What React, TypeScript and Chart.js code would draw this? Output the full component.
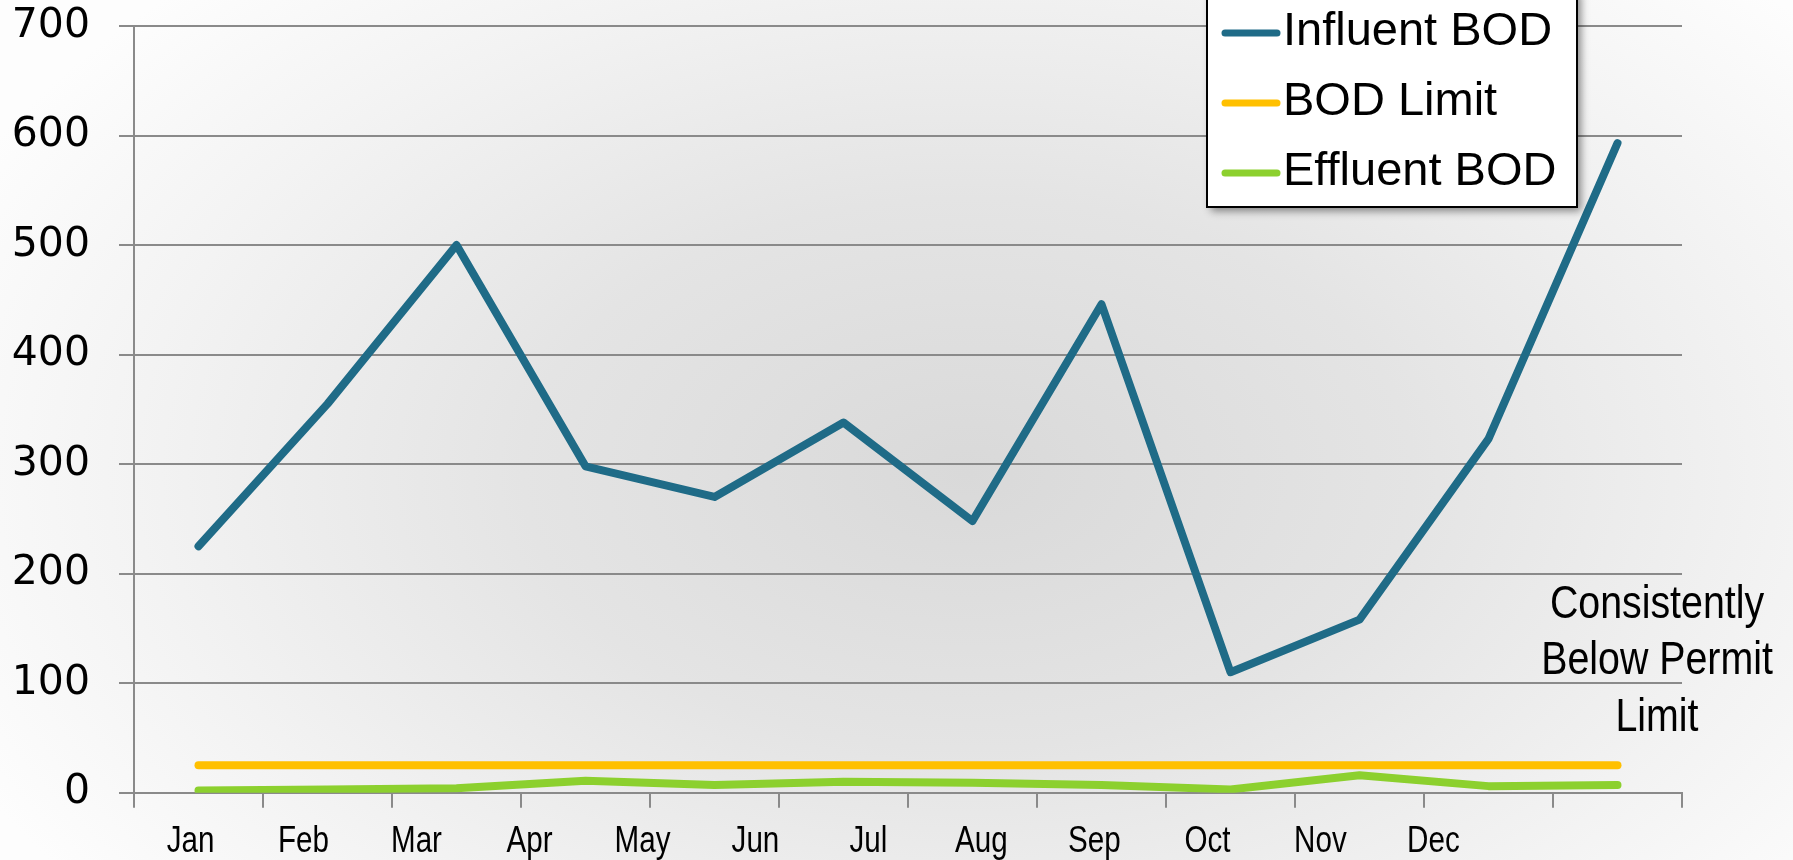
import React, { useEffect, useRef } from "react";
import { Chart, registerables } from "chart.js";

Chart.register(...registerables);

const CATEGORIES = ["Jan", "Feb", "Mar", "Apr", "May", "Jun", "Jul", "Aug", "Sep", "Oct", "Nov", "Dec"];
const MONTH_LABELS = ["Jan", "Feb", "Mar", "Apr", "May", "Jun", "Jul", "Aug", "Sep", "Oct", "Nov", "Dec"];
const INFLUENT_BOD = [225, 355, 500, 298, 270, 338, 248, 446, 110, 158, 323, 593];
const BOD_LIMIT = [25, 25, 25, 25, 25, 25, 25, 25, 25, 25, 25, 25];
const EFFLUENT_BOD = [2, 3, 4, 11, 7, 10, 9, 7, 3, 16, 6, 7];
const Y_TICKS = [0, 100, 200, 300, 400, 500, 600, 700];
const NOTE_LINES = ["Consistently", "Below Permit", "Limit"];

const GRID = "#8a8a8a";
const SANS = "'Liberation Sans', Arial, sans-serif";

const boxLegend = {
  id: "boxLegend",
  afterDraw(chart: any, _args: any, opts: any) {
    const { ctx } = chart;
    const { left, top, width, height, firstRow, rowGap } = opts;
    ctx.save();
    ctx.shadowColor = "rgba(0,0,0,0.45)";
    ctx.shadowBlur = 8;
    ctx.shadowOffsetX = 4;
    ctx.shadowOffsetY = 4;
    ctx.fillStyle = "#ffffff";
    ctx.fillRect(left, top, width, height);
    ctx.shadowColor = "transparent";
    ctx.shadowBlur = 0;
    ctx.shadowOffsetX = 0;
    ctx.shadowOffsetY = 0;
    ctx.lineWidth = 2;
    ctx.strokeStyle = "#000000";
    ctx.strokeRect(left, top, width, height);
    chart.data.datasets.forEach((ds: any, i: number) => {
      const cy = firstRow + i * rowGap;
      ctx.strokeStyle = ds.borderColor;
      ctx.lineWidth = 7;
      ctx.lineCap = "round";
      ctx.beginPath();
      ctx.moveTo(left + 18, cy);
      ctx.lineTo(left + 70, cy);
      ctx.stroke();
      ctx.fillStyle = "#000000";
      ctx.font = `47px ${SANS}`;
      ctx.textBaseline = "middle";
      ctx.textAlign = "left";
      ctx.fillText(ds.label, left + 76, cy - 0.5);
    });
    ctx.restore();
  },
};

const monthLabels = {
  id: "monthLabels",
  afterDraw(chart: any, _args: any, opts: any) {
    const { ctx } = chart;
    const s = chart.scales.xm;
    ctx.save();
    ctx.fillStyle = "#000000";
    ctx.font = `37px ${SANS}`;
    ctx.textAlign = "center";
    ctx.textBaseline = "middle";
    MONTH_LABELS.forEach((label, i) => {
      const x = s.getPixelForValue(i + 0.5);
      ctx.save();
      ctx.translate(x, s.top + opts.offsetY);
      ctx.scale(opts.squeeze, 1);
      ctx.fillText(label, 0, 0);
      ctx.restore();
    });
    ctx.restore();
  },
};

const noteText = {
  id: "noteText",
  afterDraw(chart: any, _args: any, opts: any) {
    const { ctx } = chart;
    ctx.save();
    ctx.fillStyle = "#000000";
    ctx.font = `46px ${SANS}`;
    ctx.textAlign = "center";
    ctx.textBaseline = "middle";
    NOTE_LINES.forEach((line, i) => {
      ctx.save();
      ctx.translate(opts.x, opts.y + i * opts.gap);
      ctx.scale(opts.squeeze, 1);
      ctx.fillText(line, 0, 0);
      ctx.restore();
    });
    ctx.restore();
  },
};

export default function App() {
  const canvasRef = useRef<HTMLCanvasElement | null>(null);

  useEffect(() => {
    document.body.style.margin = "0";
    const canvas = canvasRef.current;
    if (!canvas) return;
    const lineStyle = {
      borderWidth: 8,
      pointRadius: 0,
      tension: 0,
      borderCapStyle: "round",
      borderJoinStyle: "round",
      xAxisID: "x",
      yAxisID: "y",
    };
    const chart = new Chart(canvas, {
      type: "line",
      data: {
        labels: CATEGORIES,
        datasets: [
          { label: "Influent BOD", data: INFLUENT_BOD, borderColor: "#1F6B87", backgroundColor: "#1F6B87", ...lineStyle },
          { label: "BOD Limit", data: BOD_LIMIT, borderColor: "#FFC000", backgroundColor: "#FFC000", ...lineStyle },
          { label: "Effluent BOD", data: EFFLUENT_BOD, borderColor: "#8CD02E", backgroundColor: "#8CD02E", ...lineStyle },
        ] as any,
      },
      options: {
        animation: false,
        responsive: true,
        maintainAspectRatio: false,
        layout: { padding: { top: 0, right: 111, bottom: 0, left: 0 } },
        plugins: {
          legend: { display: false },
          tooltip: { enabled: false },
          boxLegend: { left: 1207, top: -10, width: 370, height: 217, firstRow: 33, rowGap: 70 },
          monthLabels: { offsetY: 34, squeeze: 0.8 },
          noteText: { x: 1657, y: 605, gap: 56.7, squeeze: 0.855 },
        } as any,
        scales: {
          x: {
            type: "category",
            position: "bottom",
            weight: 0,
            offset: true,
            ticks: { display: false },
            grid: {
              offset: true,
              drawOnChartArea: false,
              drawTicks: true,
              tickLength: 15,
              color: GRID,
              lineWidth: 2,
            },
            border: { display: true, color: GRID, width: 2 },
            afterFit: (s: any) => {
              s.height = 15;
            },
          },
          xm: {
            type: "linear",
            position: "bottom",
            weight: 1,
            min: 0,
            max: 13.7,
            grid: { display: false, drawTicks: false },
            border: { display: false },
            afterBuildTicks: (s: any) => {
              s.ticks = MONTH_LABELS.map((_, i) => ({ value: i + 0.5 }));
            },
            ticks: { display: false },
            afterFit: (s: any) => {
              s.height = 52.3;
            },
          },
          y: {
            type: "linear",
            position: "left",
            min: 0,
            max: 700,
            afterBuildTicks: (s: any) => {
              s.ticks = Y_TICKS.map((v) => ({ value: v }));
            },
            ticks: {
              padding: 29,
              color: "#000000",
              labelOffset: 0,
              font: { family: "'DejaVu Sans', sans-serif", size: 41 },
              callback: (v: any) => String(v),
            },
            grid: { color: GRID, lineWidth: 2, drawTicks: true, tickLength: 15 },
            border: { display: true, color: GRID, width: 2 },
            afterFit: (s: any) => {
              s.width = 134;
              s.paddingTop = 26;
              s.paddingBottom = 0;
            },
          },
        } as any,
      },
      plugins: [boxLegend, monthLabels, noteText],
    });
    return () => chart.destroy();
  }, []);

  return (
    <div
      style={{
        position: "fixed",
        left: 0,
        top: 0,
        width: 1793,
        height: 860,
        background:
          "radial-gradient(ellipse 62% 80% at 54% 55%, #d9d9d9 0%, #e4e4e4 40%, #f3f3f3 75%, #fdfdfd 100%)",
      }}
    >
      <canvas ref={canvasRef} />
    </div>
  );
}
